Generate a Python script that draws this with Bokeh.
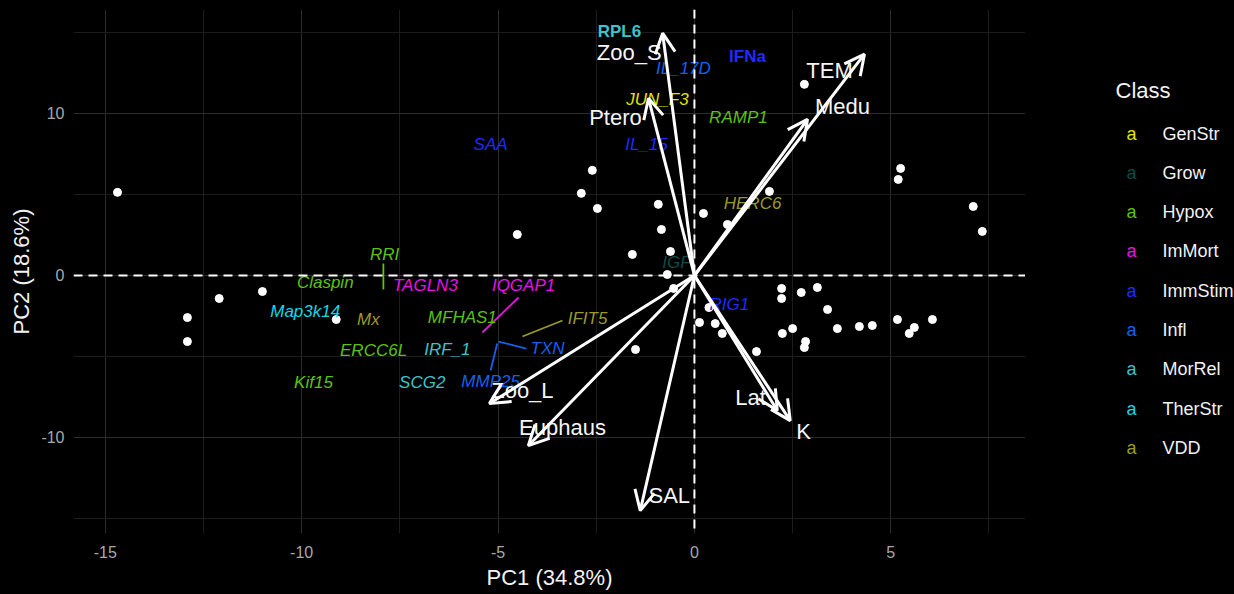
from bokeh.plotting import figure
from bokeh.models import (ColumnDataSource, Range1d, FixedTicker, Span, Arrow,
                          OpenHead)
from bokeh.layouts import row
from bokeh.core.properties import value
from bokeh.embed import file_html
from bokeh.resources import INLINE

FONT = "Liberation Sans"

# ---- sample scores (PC1, PC2) ----
score_pc1 = [-14.69, -12.91, -12.91, -12.10, -11.00, -9.12, -4.51, -2.88, -2.60,
             -2.47, -1.58, -1.50, -0.92, -0.84, -0.61, -0.69, -0.53, 0.23, 0.84,
             1.91, 0.13, 0.53, 0.71, 1.58, 2.80, 2.22, 2.22, 2.72, 3.13, 3.39,
             2.24, 2.50, 2.83, 2.80, 3.64, 4.20, 4.53, 5.17, 5.47, 5.60, 6.06,
             5.25, 5.19, 7.10, 7.33, 0.37]
score_pc2 = [5.13, -2.60, -4.08, -1.42, -0.99, -2.72, 2.53, 5.07, 6.49,
             4.14, 1.30, -4.57, 4.39, 2.84, 1.48, 0.06, -0.80, 3.83, 3.15,
             5.19, -2.90, -2.97, -3.58, -4.70, 11.80, -0.80, -1.42, -1.05, -0.74, -2.10,
             -3.58, -3.28, -4.08, -4.45, -3.28, -3.15, -3.09, -2.72, -3.58, -3.21, -2.72,
             6.61, 5.93, 4.26, 2.72, -1.98]

# ---- environmental loadings (arrows) ----
env_names = ["Zoo_S", "Ptero", "TEM", "Medu", "Zoo_L", "Euphaus", "SAL", "Lat", "K"]
env_pc1 = [-0.81, -1.17, 4.33, 2.88, -5.22, -4.23, -1.38, 2.11, 2.44]
env_pc2 = [14.96, 10.94, 13.66, 9.64, -7.91, -10.51, -14.52, -8.34, -8.96]
env_label_x = [-1.66, -2.01, 3.44, 3.77, -4.38, -3.36, -0.64, 1.43, 2.78]
env_label_y = [13.77, 9.75, 12.65, 10.43, -7.10, -9.38, -13.58, -7.53, -9.63]

# ---- gene labels ----
gene_names = ["RPL6", "IFNa", "IL_17D", "JUN_F3", "RAMP1", "IL_15", "SAA", "HERC6",
              "IGF", "RIG1", "RRI", "Claspin", "TAGLN3", "IQGAP1", "Map3k14", "Mx",
              "MFHAS1", "IFIT5", "ERCC6L", "IRF_1", "TXN", "SCG2", "MMP25", "Kif15"]
gene_class = ["MorRel", "ImmStim", "Infl", "GenStr", "Hypox", "ImmStim", "ImmStim", "VDD",
              "Grow", "ImmStim", "Hypox", "Hypox", "ImMort", "ImMort", "TherStr", "VDD",
              "Hypox", "VDD", "Hypox", "MorRel", "Infl", "MorRel", "Infl", "Hypox"]
gene_x = [-1.91, 1.35, -0.28, -0.94, 1.12, -1.22, -5.19, 1.48,
          -0.46, 0.89, -7.89, -9.40, -6.85, -4.35, -9.91, -8.30,
          -5.91, -2.72, -8.17, -6.29, -3.74, -6.93, -5.19, -9.70]
gene_y = [15.08, 13.54, 12.79, 10.88, 9.77, 8.10, 8.10, 4.45,
          0.80, -1.79, 1.30, -0.43, -0.62, -0.62, -2.22, -2.72,
          -2.60, -2.66, -4.64, -4.57, -4.51, -6.61, -6.55, -6.61]
gene_bold = ["RPL6", "IFNa"]

# repel connector segments for crowded labels
seg_gene = ["RRI", "IQGAP1", "IFIT5", "TXN", "MMP25"]
seg_x0 = [-7.92, -4.48, -3.36, -4.28, -5.02]
seg_y0 = [0.74, -1.36, -2.78, -4.51, -4.20]
seg_x1 = [-7.92, -5.40, -4.38, -4.99, -5.19]
seg_y1 = [-0.86, -3.52, -3.77, -4.08, -5.87]

# ---- class palette ----
classes = ["GenStr", "Grow", "Hypox", "ImMort", "ImmStim", "Infl", "MorRel", "TherStr", "VDD"]
class_colors = ["#E3E300", "#114B45", "#5EC010", "#E614E6", "#1F2BFF", "#1560F0",
                "#3CC4C8", "#14D8E6", "#9A9A2A"]
palette = dict(zip(classes, class_colors))

x_ticks = [-15, -10, -5, 0, 5]
y_ticks = [-10, 0, 10]

BG = "#000000"

p = figure(frame_width=952, frame_height=524, min_border_left=73, min_border_right=0,
           min_border_top=9, min_border_bottom=61, output_backend="svg",
           toolbar_location=None, x_range=Range1d(-15.81, 8.43),
           y_range=Range1d(-15.93, 16.42), background_fill_color=BG,
           border_fill_color=BG, outline_line_color=None)

p.xaxis.ticker = FixedTicker(ticks=x_ticks, minor_ticks=[-12.5, -7.5, -2.5, 2.5, 7.5])
p.yaxis.ticker = FixedTicker(ticks=y_ticks, minor_ticks=[-15, -5, 5, 15])
p.xaxis.major_label_overrides = {t: str(t) for t in x_ticks}
p.yaxis.major_label_overrides = {t: str(t) for t in y_ticks}
for ax in (p.xaxis[0], p.yaxis[0]):
    ax.axis_line_color = None
    ax.major_tick_line_color = None
    ax.minor_tick_line_color = None
    ax.major_tick_out = 0
    ax.major_tick_in = 0
    ax.minor_tick_out = 0
    ax.minor_tick_in = 0
    ax.major_label_text_color = "#a8a8a8"
    ax.major_label_text_font = FONT
    ax.major_label_text_font_size = "16px"
    ax.axis_label_text_color = "#f2f2f2"
    ax.axis_label_text_font = FONT
    ax.axis_label_text_font_size = "22px"
    ax.axis_label_text_font_style = "normal"
p.xaxis.axis_label = "PC1 (34.8%)"
p.yaxis.axis_label = "PC2 (18.6%)"
p.xaxis.major_label_standoff = 12
p.yaxis.major_label_standoff = 9
p.xaxis.axis_label_standoff = 4
p.yaxis.axis_label_standoff = 4

for g in (p.xgrid[0], p.ygrid[0]):
    g.grid_line_color = "#2c2c2c"
    g.grid_line_width = 1
    g.minor_grid_line_color = "#1c1c1c"
    g.minor_grid_line_width = 1

# zero reference lines
p.add_layout(Span(location=0, dimension="width", line_color="white",
                  line_width=2, line_dash="9 6"))
p.add_layout(Span(location=0, dimension="height", line_color="white",
                  line_width=2, line_dash="9 6"))

# sample scores
p.scatter(score_pc1, score_pc2, size=8, fill_color="white", line_color="white")

# loading arrows
arrow_src = ColumnDataSource(dict(x0=[0] * len(env_pc1), y0=[0] * len(env_pc1),
                                  x1=env_pc1, y1=env_pc2))
p.add_layout(Arrow(end=OpenHead(size=20, line_color="white", line_width=3),
                   x_start="x0", y_start="y0", x_end="x1", y_end="y1",
                   line_color="white", line_width=3, source=arrow_src))
p.text(env_label_x, env_label_y, text=env_names, text_color="#f5f5f5",
       text_font=value(FONT), text_font_size="22px", text_align="center",
       text_baseline="middle")

# connector segments
seg_colors = [palette[gene_class[gene_names.index(g)]] for g in seg_gene]
p.segment(seg_x0, seg_y0, seg_x1, seg_y1, line_color=seg_colors, line_width=1.8)

# gene labels
ital = [i for i, g in enumerate(gene_names) if g not in gene_bold]
bold = [i for i, g in enumerate(gene_names) if g in gene_bold]
for idx, style in ((ital, "italic"), (bold, "bold")):
    src = ColumnDataSource(dict(
        x=[gene_x[i] for i in idx], y=[gene_y[i] for i in idx],
        t=[gene_names[i] for i in idx],
        c=[palette[gene_class[i]] for i in idx]))
    p.text("x", "y", text="t", text_color="c", source=src, text_font=value(FONT),
           text_font_size="17px", text_font_style=style, text_align="center",
           text_baseline="middle")

# legend panel: frame spans the same rows as the main plot, coordinates in pixels
leg = figure(frame_width=209, frame_height=524, min_border_left=0, min_border_right=0,
             min_border_top=9, min_border_bottom=61, output_backend="svg",
             toolbar_location=None, x_range=Range1d(1025, 1234),
             y_range=Range1d(533, 9), x_axis_location=None, y_axis_location=None,
             background_fill_color=BG, border_fill_color=BG, outline_line_color=None)
leg.xgrid.visible = False
leg.ygrid.visible = False
leg.text([1115], [90], text=["Class"], text_color="#f2f2f2", text_font=value(FONT),
         text_font_size="22px", text_align="left", text_baseline="middle")
item_y = [133 + 39.3 * i for i in range(len(classes))]
leg.text([1131] * len(classes), item_y, text=["a"] * len(classes),
         text_color=class_colors, text_font=value(FONT), text_font_size="18px",
         text_align="center", text_baseline="middle")
leg.text([1162] * len(classes), item_y, text=classes, text_color="#f2f2f2",
         text_font=value(FONT), text_font_size="18px", text_align="left",
         text_baseline="middle")

layout = row(p, leg)
layout.styles = {"background-color": BG}

with open("out.html", "w") as f:
    f.write(file_html(layout, INLINE, title="PCA biplot"))
